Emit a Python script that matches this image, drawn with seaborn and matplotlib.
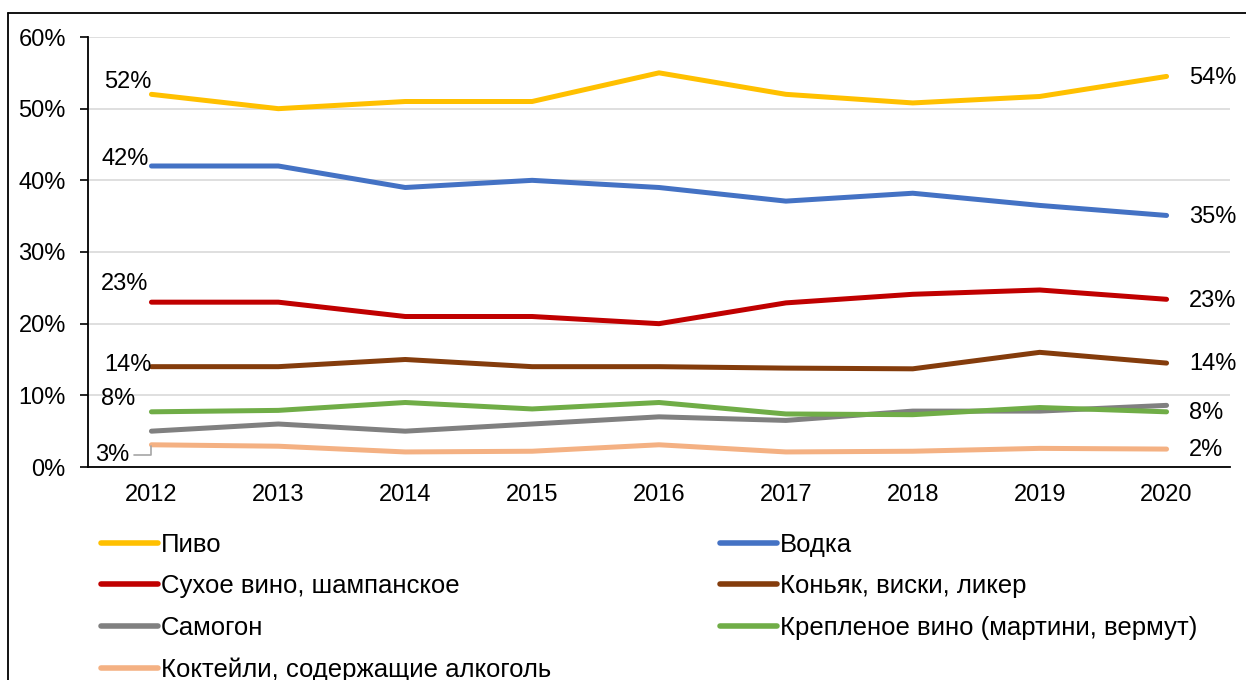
import matplotlib
matplotlib.use("Agg")
import matplotlib.pyplot as plt
from matplotlib.lines import Line2D
from matplotlib.ticker import FixedLocator, PercentFormatter
import seaborn as sns
import pandas as pd

years = ["2012", "2013", "2014", "2015", "2016", "2017", "2018", "2019", "2020"]

pivo = [52.0, 50.0, 51.0, 51.0, 55.0, 52.0, 50.8, 51.7, 54.5]
vodka = [42.0, 42.0, 39.0, 40.0, 39.0, 37.1, 38.2, 36.5, 35.1]
suhoe = [23.0, 23.0, 21.0, 21.0, 20.0, 22.9, 24.1, 24.7, 23.4]
konyak = [14.0, 14.0, 15.0, 14.0, 14.0, 13.8, 13.7, 16.0, 14.5]
samogon = [5.0, 6.0, 5.0, 6.0, 7.0, 6.5, 7.8, 7.8, 8.6]
kreplenoe = [7.7, 7.9, 9.0, 8.1, 9.0, 7.4, 7.3, 8.3, 7.7]
kokteyli = [3.1, 2.9, 2.1, 2.2, 3.1, 2.1, 2.2, 2.6, 2.5]

names = ["Пиво", "Водка", "Сухое вино, шампанское", "Коньяк, виски, ликер",
         "Самогон", "Крепленое вино (мартини, вермут)", "Коктейли, содержащие алкоголь"]
series = [pivo, vodka, suhoe, konyak, samogon, kreplenoe, kokteyli]
colors = ["#FFC000", "#4472C4", "#C00000", "#843C0C", "#808080", "#70AD47", "#F4B183"]

first_labels = ["52%", "42%", "23%", "14%", None, "8%", "3%"]
last_labels = ["54%", "35%", "23%", "14%", None, "8%", "2%"]

rows = []
for n, vals in zip(names, series):
    for i, v in enumerate(vals):
        rows.append({"x": i, "year": years[i], "name": n, "value": v / 100})
df = pd.DataFrame(rows)

sns.set_style("white")
plt.rcParams["font.family"] = ["Liberation Sans", "DejaVu Sans"]
plt.rcParams["text.color"] = "black"

FS = 17
LFS = 18.5

fig = plt.figure(figsize=(12.46, 6.8), dpi=100)
ax = fig.add_axes([88 / 1246, 1 - 467 / 680, (1230 - 88) / 1246, (467 - 37) / 680])

sns.lineplot(data=df, x="x", y="value", hue="name", hue_order=names,
             palette=colors, linewidth=3.6, ax=ax, legend=False, sort=False)
for ln in ax.lines:
    ln.set_solid_capstyle("round")
    ln.set_solid_joinstyle("round")

ax.set_xlim(-0.5, len(years) - 0.5)
ax.set_ylim(0, 0.6)
ax.set_xlabel("")
ax.set_ylabel("")
ax.yaxis.set_major_locator(FixedLocator([0, 0.1, 0.2, 0.3, 0.4, 0.5, 0.6]))
ax.yaxis.set_major_formatter(PercentFormatter(1.0, decimals=0))
ax.set_xticks(range(len(years)))
ax.set_xticklabels(years)
ax.set_xticks([i - 0.5 for i in range(len(years) + 1)], minor=True)
ax.tick_params(axis="x", which="major", length=0, labelsize=FS, pad=12, colors="black")
ax.tick_params(axis="x", which="minor", length=8, width=1.2, direction="out", color="black")
ax.tick_params(axis="y", which="major", length=6, width=1.2, direction="out",
               labelsize=FS, pad=10, colors="black", left=True)
ax.grid(axis="y", color="#D9D9D9", linewidth=1.2)
ax.set_axisbelow(True)
for s in ["top", "right"]:
    ax.spines[s].set_visible(False)
for s in ["left", "bottom"]:
    ax.spines[s].set_color("black")
    ax.spines[s].set_linewidth(1.3)

# data labels at first and last points
first_offsets = [(-17, 9), (-19, 5), (-19, 13), (-17, 1), None, (-24, 9), (-28, -7)]
for vals, lab, off in zip(series, first_labels, first_offsets):
    if lab is None:
        continue
    if lab == "3%":
        ax.annotate(lab, xy=(0, vals[0] / 100), xytext=off, textcoords="offset points",
                    ha="center", va="center", fontsize=FS,
                    arrowprops=dict(arrowstyle="-", color="#A6A6A6", lw=1.2,
                                    shrinkA=1, shrinkB=1,
                                    connectionstyle="angle,angleA=0,angleB=90,rad=0"))
    else:
        ax.annotate(lab, xy=(0, vals[0] / 100), xytext=off, textcoords="offset points",
                    ha="center", va="center", fontsize=FS)

for vals, lab in zip(series, last_labels):
    if lab is None:
        continue
    ax.annotate(lab, xy=(len(years) - 1, vals[-1] / 100), xytext=(16, -1),
                textcoords="offset points", ha="left", va="center", fontsize=FS)

# legend in two columns, row-wise order
handles = [Line2D([], [], color=c, linewidth=4, solid_capstyle="round") for c in colors]
leg_kw = dict(frameon=False, fontsize=LFS, handlelength=2.2, handletextpad=0.12,
              labelspacing=0.68, loc="upper left", borderaxespad=0, borderpad=0)
leg1 = fig.legend([handles[i] for i in (0, 2, 4, 6)], [names[i] for i in (0, 2, 4, 6)],
                  bbox_to_anchor=(101 / 1246, 1 - 533 / 680), **leg_kw)
leg2 = fig.legend([handles[i] for i in (1, 3, 5)], [names[i] for i in (1, 3, 5)],
                  bbox_to_anchor=(720 / 1246, 1 - 533 / 680), **leg_kw)

# outer frame (left and top edges visible)
fig.add_artist(Line2D([8 / 1246, 8 / 1246], [0, 1 - 13 / 680], transform=fig.transFigure,
                      color="black", linewidth=1.3))
fig.add_artist(Line2D([8 / 1246, 1], [1 - 13 / 680, 1 - 13 / 680], transform=fig.transFigure,
                      color="black", linewidth=1.3))

fig.savefig("out.png", dpi=100)
